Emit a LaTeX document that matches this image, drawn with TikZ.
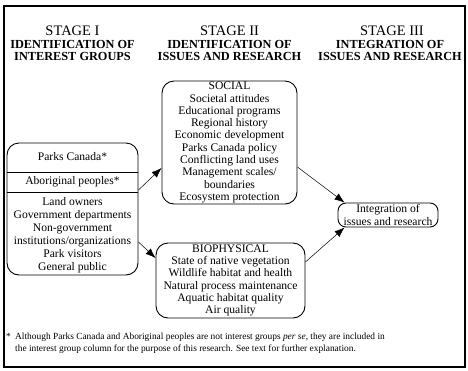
\documentclass[tikz,border=0pt]{standalone}
\usepackage{fontspec}
\setmainfont{Liberation Serif}
\usetikzlibrary{arrows.meta,positioning}

\tikzset{
  stagetitle/.style={anchor=base, inner sep=0pt, font=\fontsize{14.5}{15}\selectfont},
  stagesub/.style={anchor=north, inner sep=0pt, align=center, font=\fontsize{12.3}{12}\selectfont\bfseries},
  roundbox/.style={draw, line width=0.9pt, rounded corners=12pt, inner sep=0pt},
  boxtext/.style={inner sep=0pt, align=center, font=\fontsize{11.6}{12.3}\selectfont},
  flow/.style={->, line width=0.5pt, shorten >=0pt},
}

\begin{document}
\begin{tikzpicture}[x=1pt, y=-1pt, >={Latex[length=10pt,width=7.5pt]}]
    \useasboundingbox (0,0) rectangle (468,370);
    % outer frame
    \draw[line width=1.4pt] (4,6) rectangle (465,367);
    \draw[line width=2.2pt] (4,6) -- (465,6);

    % stage headings
    \node[stagetitle] (s1) at (72.5,35) {STAGE I};
    \node[stagesub] (s1sub) at (72.5,40) {IDENTIFICATION OF\\INTEREST GROUPS};
    \node[stagetitle] (s2) at (229.5,35) {STAGE II};
    \node[stagesub] (s2sub) at (229.5,40) {IDENTIFICATION OF\\ISSUES AND RESEARCH};
    \node[stagetitle] (s3) at (392,35) {STAGE III};
    \node[stagesub] (s3sub) at (390,40) {INTEGRATION OF\\ISSUES AND RESEARCH};

    % stage I: interest groups
    \node[roundbox, minimum width=131pt, minimum height=132pt] (groups) at (72.5,209) {};
    \node[boxtext] (parks) at (72.5,157) {Parks Canada*};
    \node[boxtext] (aborig) at (72.5,182) {Aboriginal peoples*};
    \draw[line width=0.6pt] (groups.west |- 0,172) -- (groups.east |- 0,172);
    \draw[line width=0.6pt] (groups.west |- 0,192) -- (groups.east |- 0,192);
    \node[boxtext, font=\fontsize{11.6}{13}\selectfont] (others) at (72.5,235)
        {Land owners\\Government departments\\Non-government\\institutions/organizations\\Park visitors\\General public};

    % stage II: issues
    \node[roundbox, boxtext, draw, minimum width=135pt, minimum height=123pt] (social) at (229.5,142.5)
        {SOCIAL\\Societal attitudes\\Educational programs\\Regional history\\Economic development\\Parks Canada policy\\Conflicting land uses\\Management scales/\\boundaries\\Ecosystem protection};
    \node[roundbox, boxtext, draw, minimum width=149pt, minimum height=75pt] (bio) at (230.5,280.5)
        {BIOPHYSICAL\\State of native vegetation\\Wildlife habitat and health\\Natural process maintenance\\Aquatic habitat quality\\Air quality};

    % stage III: integration
    \node[roundbox, boxtext, draw, rounded corners=8pt, minimum width=100pt, minimum height=24pt] (integ) at (388,215)
        {Integration of\\issues and research};

    % connectors
    \draw[flow] (groups.east |- 0,190) -- (social.west |- 0,168);
    \draw[flow] (groups.east |- 0,242) -- (bio.west |- 0,258);
    \draw[flow] (social.east |- 0,167) -- ([xshift=7pt]integ.north west);
    \draw[flow] (bio.east |- 0,262) -- ([xshift=7pt]integ.south west);

    % footnote
    \node[inner sep=0pt, anchor=north west, font=\fontsize{9.4}{11}\selectfont] (star) at (6,333) {*};
    \node[inner sep=0pt, anchor=north west, align=left, font=\fontsize{9.4}{11.5}\selectfont] (note) at (15,333)
        {Although Parks Canada and Aboriginal peoples are not interest groups \textit{per se}, they are included in\\the interest group column for the purpose of this research. See text for further explanation.};
\end{tikzpicture}
\end{document}
